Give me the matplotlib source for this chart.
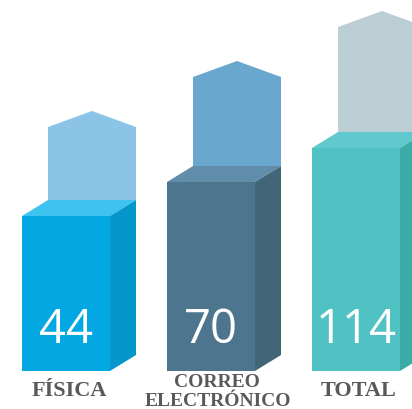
import matplotlib
matplotlib.use("Agg")

import matplotlib.pyplot as plt
from matplotlib.patches import Polygon

# ---------------------------------------------------------------------------
# Data
# ---------------------------------------------------------------------------
categories = ["FÍSICA", "CORREO\nELECTRÓNICO", "TOTAL"]
values = [44, 70, 114]
block_height = [155, 189, 223]   # drawn height of the solid block
ghost_height = [105, 121, 137]   # extra height of the pale arrow behind it

front_col = ["#03A7E1", "#4D758D", "#50C2C3"]
top_col = ["#3EC2EF", "#5F8DAA", "#60C9CD"]
side_col = ["#0596CA", "#426577", "#3BABA5"]
ghost_col = ["#8BC4E6", "#69A7CF", "#BACED4"]

# ---------------------------------------------------------------------------
# Layout (pixel-like data units)
# ---------------------------------------------------------------------------
W, H = 412, 410
BASE = 38
WIDTH = 88
DX, DY = 26, 16
SHOULDER = 16
x_centers = [66 + 145 * i for i in range(len(values))]

fig = plt.figure(figsize=(W / 100, H / 100), dpi=100)
ax = fig.add_axes([0, 0, 1, 1])
ax.set_xlim(0, W)
ax.set_ylim(0, H)
ax.set_axis_off()

for i, (xc, v, bh, gh) in enumerate(zip(x_centers, values, block_height, ghost_height)):
    x0 = xc - WIDTH / 2
    x1 = xc + WIDTH / 2
    top = BASE + bh

    # pale arrow behind the block
    gx0, gx1 = x0 + DX, x1 + DX
    apex = top + gh
    ghost = Polygon(
        [(gx0, top + DY), (gx0, apex - SHOULDER), ((gx0 + gx1) / 2, apex),
         (gx1, apex - SHOULDER), (gx1, top + DY)],
        closed=True, facecolor=ghost_col[i], edgecolor="none", zorder=1)
    ax.add_patch(ghost)

    # front face
    ax.bar(xc, bh, width=WIDTH, bottom=BASE, color=front_col[i],
           linewidth=0, zorder=3)
    # top face
    ax.add_patch(Polygon(
        [(x0, top), (x0 + DX, top + DY), (x1 + DX, top + DY), (x1, top)],
        closed=True, facecolor=top_col[i], edgecolor="none", zorder=2))
    # side face
    ax.add_patch(Polygon(
        [(x1, BASE), (x1, top), (x1 + DX, top + DY), (x1 + DX, BASE + DY)],
        closed=True, facecolor=side_col[i], edgecolor="none", zorder=2))

    ax.text(xc, BASE + 42, str(v), color="white", fontsize=34,
            family="Open Sans", ha="center", va="center", zorder=4)

    lbl = categories[i]
    if "\n" in lbl:
        first, second = lbl.split("\n")
        ax.text(xc + 6, 27, first, color="#58595B", fontsize=14,
                family="Liberation Serif", weight="bold", ha="center", va="center")
        ax.text(xc + 7, 8, second, color="#58595B", fontsize=14,
                family="Liberation Serif", weight="bold", ha="center", va="center")
    else:
        ax.text(xc + 3, 19, lbl, color="#58595B", fontsize=16,
                family="Liberation Serif", weight="bold", ha="center", va="center")

fig.savefig("out.png", dpi=100, facecolor="white")
